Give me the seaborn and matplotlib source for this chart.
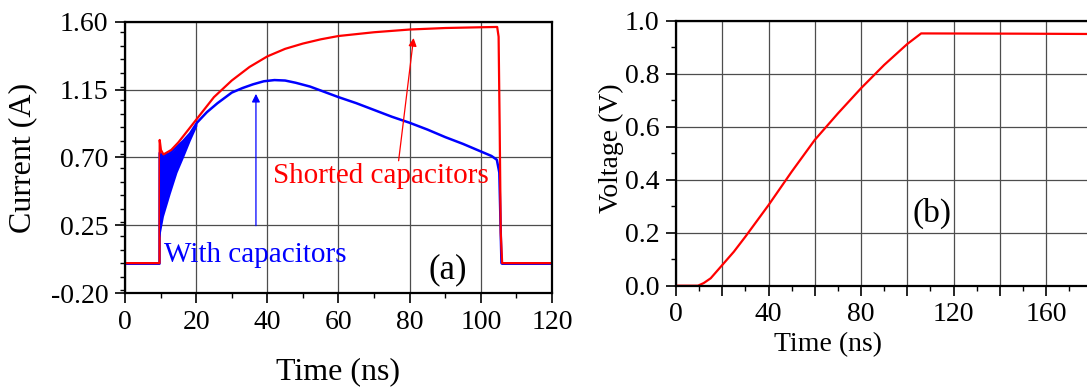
import numpy as np
import pandas as pd
import matplotlib
matplotlib.use("Agg")
import matplotlib.pyplot as plt
from matplotlib.ticker import MultipleLocator, FuncFormatter
import seaborn as sns

# (a) corrente - capacitores em curto (vermelho)
t_curto = [0, 9.7, 9.75, 10.1, 10.8, 13, 15, 17, 20, 25, 30, 35, 40, 45, 50, 55, 60,
           70, 80, 90, 100, 104.6, 105.0, 105.3, 105.6, 106, 120]
i_curto = [0, 0, 0.816, 0.75, 0.72, 0.75, 0.80, 0.86, 0.95, 1.10, 1.21, 1.30, 1.37, 1.42,
           1.455, 1.483, 1.505, 1.53, 1.548, 1.558, 1.563, 1.565, 1.50, 0.90, 0.20, 0, 0]

# (a) corrente - com capacitores (azul)
t_cap = [0, 9.7, 9.75, 10.8, 12.7, 14.6, 16.4, 18.3, 20.2, 23, 26, 30, 33, 36, 39, 42, 45, 48,
         52, 56, 60, 65, 70, 75, 80, 85, 90, 95, 100, 103, 104.5, 105.2, 105.5, 105.8, 106, 120]
i_cap = [-0.004, -0.004, 0.73, 0.71, 0.73, 0.77, 0.81, 0.86, 0.93, 1.00, 1.06, 1.13, 1.16, 1.185,
         1.205, 1.213, 1.21, 1.195, 1.17, 1.135, 1.10, 1.06, 1.015, 0.97, 0.93, 0.885, 0.835,
         0.79, 0.74, 0.71, 0.685, 0.60, 0.30, 0.0, -0.004, -0.004]

# oscilação logo após o degrau (envoltórias)
t_osc = [9.7, 10.8, 12.7, 14.6, 16.4, 18.3, 20.2]
osc_min = [0.17, 0.31, 0.46, 0.60, 0.70, 0.81, 0.91]
osc_max = [0.73, 0.71, 0.73, 0.77, 0.81, 0.86, 0.93]

# (b) tensão
t_tensao = [0, 9.5, 12, 15, 20, 25, 30, 40, 50, 60, 70, 80, 90, 100, 106, 150, 200]
v_tensao = [0, 0, 0.01, 0.028, 0.078, 0.128, 0.185, 0.304, 0.43, 0.55, 0.65, 0.745, 0.833,
            0.912, 0.952, 0.951, 0.949]

sns.set_theme(style="white")
plt.rcParams["font.family"] = ["Liberation Serif", "DejaVu Serif"]
plt.rcParams["axes.unicode_minus"] = False
plt.rcParams["text.color"] = "black"
plt.rcParams["axes.labelcolor"] = "black"
plt.rcParams["xtick.color"] = "black"
plt.rcParams["ytick.color"] = "black"

fig = plt.figure(figsize=(10.87, 3.92), dpi=100)
ax1 = fig.add_axes([0.1150, 0.2518, 0.3928, 0.6929])
ax2 = fig.add_axes([0.6219, 0.2712, 0.4255, 0.6760])


def estilo_eixo(ax):
    for lado in ax.spines.values():
        lado.set_color("black")
        lado.set_linewidth(1.6)
    ax.grid(True, which="major", color="0.3", linewidth=0.9)
    ax.tick_params(which="major", direction="out", length=7, width=1.2, colors="black",
                   labelsize=20, pad=5, bottom=True, left=True)
    ax.tick_params(which="minor", direction="out", length=3.5, width=1.0, colors="black",
                   bottom=True, left=True)


# painel (a)
sns.lineplot(x=t_cap, y=i_cap, ax=ax1, color="#0000ff", linewidth=1.8, sort=False,
             estimator=None)
sns.lineplot(x=t_curto, y=i_curto, ax=ax1, color="#ff0000", linewidth=1.6, sort=False,
             estimator=None)
ax1.fill_between(t_osc, osc_min, osc_max, color="#0000ff", linewidth=0, zorder=3)

ax1.set_xlim(0, 120)
ax1.set_ylim(-0.2, 1.6)
ax1.set_xticks(np.arange(0, 121, 20))
ax1.set_yticks([-0.20, 0.25, 0.70, 1.15, 1.60])
ax1.xaxis.set_minor_locator(MultipleLocator(10))
ax1.yaxis.set_minor_locator(MultipleLocator(0.09))
ax1.yaxis.set_major_formatter(FuncFormatter(lambda v, p: f"{v:.2f}"))
estilo_eixo(ax1)
ax1.set_xlabel("Time (ns)", fontsize=23)
ax1.set_ylabel("Current (A)", fontsize=23)
ax1.xaxis.set_label_coords(0.5, -0.235)
ax1.yaxis.set_label_coords(-0.205, 0.5)

ax1.text(41.7, 0.53, "Shorted capacitors", color="#ff0000", fontsize=21)
ax1.text(10.9, 0.01, "With capacitors", color="#0000ff", fontsize=21)
ax1.text(85.2, -0.098, "(a)", color="black", fontsize=25)
ax1.annotate("", xy=(81.2, 1.51), xytext=(76.8, 0.66),
             arrowprops=dict(arrowstyle="-|>", color="#ff0000", lw=0.9, mutation_scale=12))
ax1.annotate("", xy=(36.8, 1.14), xytext=(36.8, 0.23),
             arrowprops=dict(arrowstyle="-|>", color="#0000ff", lw=0.9, mutation_scale=12))

# painel (b)
sns.lineplot(x=t_tensao, y=v_tensao, ax=ax2, color="#ff0000", linewidth=1.6, sort=False,
             estimator=None)
ax2.set_xlim(0, 200)
ax2.set_ylim(0, 1.0)
ax2.set_xticks(np.arange(0, 201, 20))
ax2.set_yticks(np.arange(0, 1.01, 0.2))
ax2.xaxis.set_minor_locator(MultipleLocator(10))
ax2.yaxis.set_minor_locator(MultipleLocator(0.1))
ax2.xaxis.set_major_formatter(
    FuncFormatter(lambda v, p: f"{v:.0f}" if round(v) % 40 == 0 and v < 170 else ""))
ax2.yaxis.set_major_formatter(FuncFormatter(lambda v, p: f"{v:.1f}"))
estilo_eixo(ax2)
ax2.set_xlabel("Time (ns)", fontsize=20)
ax2.set_ylabel("Voltage (V)", fontsize=20)
ax2.xaxis.set_label_coords(0.328, -0.175)
ax2.yaxis.set_label_coords(-0.112, 0.52)
ax2.text(102.4, 0.242, "(b)", color="black", fontsize=24)

fig.savefig("out.png", dpi=100)
